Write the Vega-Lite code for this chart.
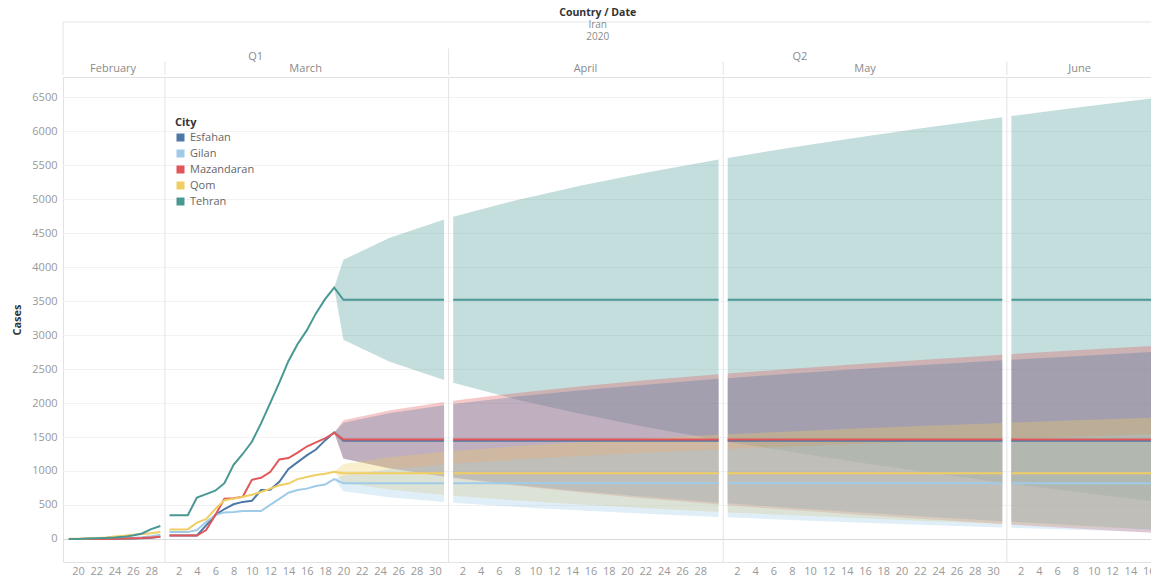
{
  "$schema": "https://vega.github.io/schema/vega-lite/v6.json",
  "padding": {"left": 11, "top": 0, "right": 0, "bottom": 0},
  "autosize": {"type": "pad"},
  "spacing": 0,
  "config": {
    "font": "Open Sans",
    "view": {"stroke": null},
    "legend": {"labelFont": "Open Sans", "titleFont": "Open Sans"}
  },
  "datasets": {
    "htext": [
      {"t": "Country / Date", "d": "2020-04-16T19:00:00Z", "r": "title"},
      {"t": "Iran", "d": "2020-04-16T19:00:00Z", "r": "country"},
      {"t": "2020", "d": "2020-04-16T19:00:00Z", "r": "year"},
      {"t": "Q1", "d": "2020-03-10T10:00:00Z", "r": "quarter"},
      {"t": "Q2", "d": "2020-05-08T21:00:00Z", "r": "quarter"},
      {"t": "February", "d": "2020-02-23T20:00:00Z", "r": "month"},
      {"t": "March", "d": "2020-03-15T21:00:00Z", "r": "month"},
      {"t": "April", "d": "2020-04-15T11:00:00Z", "r": "month"},
      {"t": "May", "d": "2020-05-16T00:00:00Z", "r": "month"},
      {"t": "June", "d": "2020-06-08T11:00:00Z", "r": "month"}
    ],
    "hrules": [
      {"d": "2020-02-18T08:40:00Z", "from": "top"},
      {"d": "2020-02-29T12:00:00Z", "from": "mid"},
      {"d": "2020-03-31T12:00:00Z", "from": "gap"},
      {"d": "2020-04-30T12:00:00Z", "from": "mid"},
      {"d": "2020-05-31T12:00:00Z", "from": "mid"}
    ],
    "seps": [
      {"d": "2020-02-29T12:00:00Z"},
      {"d": "2020-03-31T12:00:00Z"},
      {"d": "2020-04-30T12:00:00Z"},
      {"d": "2020-05-31T12:00:00Z"}
    ],
    "lines": [
      {"d": "2020-02-19", "m": "Feb", "Esfahan": 0, "Gilan": 0, "Mazandaran": 0, "Qom": 2, "Tehran": 0},
      {"d": "2020-02-20", "m": "Feb", "Esfahan": 0, "Gilan": 0, "Mazandaran": 0, "Qom": 3, "Tehran": 0},
      {"d": "2020-02-21", "m": "Feb", "Esfahan": 0, "Gilan": 0, "Mazandaran": 0, "Qom": 8, "Tehran": 5},
      {"d": "2020-02-22", "m": "Feb", "Esfahan": 0, "Gilan": 0, "Mazandaran": 0, "Qom": 15, "Tehran": 10},
      {"d": "2020-02-23", "m": "Feb", "Esfahan": 0, "Gilan": 2, "Mazandaran": 0, "Qom": 20, "Tehran": 15},
      {"d": "2020-02-24", "m": "Feb", "Esfahan": 0, "Gilan": 5, "Mazandaran": 2, "Qom": 35, "Tehran": 20},
      {"d": "2020-02-25", "m": "Feb", "Esfahan": 2, "Gilan": 10, "Mazandaran": 5, "Qom": 45, "Tehran": 30},
      {"d": "2020-02-26", "m": "Feb", "Esfahan": 5, "Gilan": 15, "Mazandaran": 8, "Qom": 60, "Tehran": 50},
      {"d": "2020-02-27", "m": "Feb", "Esfahan": 10, "Gilan": 25, "Mazandaran": 12, "Qom": 72, "Tehran": 80},
      {"d": "2020-02-28", "m": "Feb", "Esfahan": 18, "Gilan": 40, "Mazandaran": 20, "Qom": 85, "Tehran": 145},
      {"d": "2020-02-29", "m": "Feb", "Esfahan": 30, "Gilan": 60, "Mazandaran": 30, "Qom": 100, "Tehran": 190},
      {"d": "2020-03-01", "m": "Mar", "Esfahan": 50, "Gilan": 100, "Mazandaran": 50, "Qom": 140, "Tehran": 350},
      {"d": "2020-03-02", "m": "Mar", "Esfahan": 50, "Gilan": 100, "Mazandaran": 50, "Qom": 140, "Tehran": 350},
      {"d": "2020-03-03", "m": "Mar", "Esfahan": 50, "Gilan": 100, "Mazandaran": 50, "Qom": 140, "Tehran": 350},
      {"d": "2020-03-04", "m": "Mar", "Esfahan": 50, "Gilan": 130, "Mazandaran": 50, "Qom": 240, "Tehran": 610},
      {"d": "2020-03-05", "m": "Mar", "Esfahan": 200, "Gilan": 250, "Mazandaran": 130, "Qom": 290, "Tehran": 660},
      {"d": "2020-03-06", "m": "Mar", "Esfahan": 350, "Gilan": 350, "Mazandaran": 350, "Qom": 440, "Tehran": 710},
      {"d": "2020-03-07", "m": "Mar", "Esfahan": 440, "Gilan": 390, "Mazandaran": 590, "Qom": 570, "Tehran": 820},
      {"d": "2020-03-08", "m": "Mar", "Esfahan": 510, "Gilan": 395, "Mazandaran": 600, "Qom": 590, "Tehran": 1090},
      {"d": "2020-03-09", "m": "Mar", "Esfahan": 545, "Gilan": 410, "Mazandaran": 620, "Qom": 620, "Tehran": 1250},
      {"d": "2020-03-10", "m": "Mar", "Esfahan": 560, "Gilan": 410, "Mazandaran": 870, "Qom": 650, "Tehran": 1430},
      {"d": "2020-03-11", "m": "Mar", "Esfahan": 720, "Gilan": 410, "Mazandaran": 900, "Qom": 690, "Tehran": 1700},
      {"d": "2020-03-12", "m": "Mar", "Esfahan": 725, "Gilan": 500, "Mazandaran": 985, "Qom": 740, "Tehran": 2000},
      {"d": "2020-03-13", "m": "Mar", "Esfahan": 840, "Gilan": 590, "Mazandaran": 1170, "Qom": 790, "Tehran": 2300},
      {"d": "2020-03-14", "m": "Mar", "Esfahan": 1030, "Gilan": 680, "Mazandaran": 1190, "Qom": 815, "Tehran": 2620},
      {"d": "2020-03-15", "m": "Mar", "Esfahan": 1130, "Gilan": 720, "Mazandaran": 1270, "Qom": 880, "Tehran": 2870},
      {"d": "2020-03-16", "m": "Mar", "Esfahan": 1230, "Gilan": 740, "Mazandaran": 1360, "Qom": 910, "Tehran": 3070},
      {"d": "2020-03-17", "m": "Mar", "Esfahan": 1315, "Gilan": 780, "Mazandaran": 1420, "Qom": 940, "Tehran": 3320},
      {"d": "2020-03-18", "m": "Mar", "Esfahan": 1450, "Gilan": 800, "Mazandaran": 1480, "Qom": 960, "Tehran": 3530},
      {"d": "2020-03-19", "m": "Mar", "Esfahan": 1570, "Gilan": 880, "Mazandaran": 1560, "Qom": 990, "Tehran": 3700},
      {"d": "2020-03-20", "m": "Mar", "Esfahan": 1445, "Gilan": 820, "Mazandaran": 1465, "Qom": 965, "Tehran": 3520},
      {"d": "2020-03-31", "m": "Mar", "Esfahan": 1445, "Gilan": 820, "Mazandaran": 1465, "Qom": 965, "Tehran": 3520},
      {"d": "2020-04-01", "m": "Apr", "Esfahan": 1445, "Gilan": 820, "Mazandaran": 1465, "Qom": 965, "Tehran": 3520},
      {"d": "2020-04-30", "m": "Apr", "Esfahan": 1445, "Gilan": 820, "Mazandaran": 1465, "Qom": 965, "Tehran": 3520},
      {"d": "2020-05-01", "m": "May", "Esfahan": 1445, "Gilan": 820, "Mazandaran": 1465, "Qom": 965, "Tehran": 3520},
      {"d": "2020-05-31", "m": "May", "Esfahan": 1445, "Gilan": 820, "Mazandaran": 1465, "Qom": 965, "Tehran": 3520},
      {"d": "2020-06-01", "m": "Jun", "Esfahan": 1445, "Gilan": 820, "Mazandaran": 1465, "Qom": 965, "Tehran": 3520},
      {"d": "2020-06-17", "m": "Jun", "Esfahan": 1445, "Gilan": 820, "Mazandaran": 1465, "Qom": 965, "Tehran": 3520}
    ],
    "bands": [
      {"City": "Tehran", "d": "2020-03-19", "m": "Mar", "lo": 3700, "hi": 3700},
      {"City": "Tehran", "d": "2020-03-20", "m": "Mar", "lo": 2931, "hi": 4109},
      {"City": "Tehran", "d": "2020-03-25", "m": "Mar", "lo": 2612, "hi": 4428},
      {"City": "Tehran", "d": "2020-03-31", "m": "Mar", "lo": 2338, "hi": 4702},
      {"City": "Tehran", "d": "2020-04-01", "m": "Apr", "lo": 2298, "hi": 4742},
      {"City": "Tehran", "d": "2020-04-08", "m": "Apr", "lo": 2050, "hi": 4990},
      {"City": "Tehran", "d": "2020-04-15", "m": "Apr", "lo": 1838, "hi": 5202},
      {"City": "Tehran", "d": "2020-04-22", "m": "Apr", "lo": 1649, "hi": 5391},
      {"City": "Tehran", "d": "2020-04-30", "m": "Apr", "lo": 1455, "hi": 5585},
      {"City": "Tehran", "d": "2020-05-01", "m": "May", "lo": 1432, "hi": 5608},
      {"City": "Tehran", "d": "2020-05-08", "m": "May", "lo": 1278, "hi": 5762},
      {"City": "Tehran", "d": "2020-05-15", "m": "May", "lo": 1133, "hi": 5907},
      {"City": "Tehran", "d": "2020-05-22", "m": "May", "lo": 997, "hi": 6043},
      {"City": "Tehran", "d": "2020-05-31", "m": "May", "lo": 832, "hi": 6208},
      {"City": "Tehran", "d": "2020-06-01", "m": "Jun", "lo": 815, "hi": 6225},
      {"City": "Tehran", "d": "2020-06-08", "m": "Jun", "lo": 694, "hi": 6346},
      {"City": "Tehran", "d": "2020-06-17", "m": "Jun", "lo": 546, "hi": 6494},
      {"City": "Mazandaran", "d": "2020-03-19", "m": "Mar", "lo": 1560, "hi": 1560},
      {"City": "Mazandaran", "d": "2020-03-20", "m": "Mar", "lo": 1185, "hi": 1745},
      {"City": "Mazandaran", "d": "2020-03-25", "m": "Mar", "lo": 1040, "hi": 1890},
      {"City": "Mazandaran", "d": "2020-03-31", "m": "Mar", "lo": 914, "hi": 2016},
      {"City": "Mazandaran", "d": "2020-04-01", "m": "Apr", "lo": 895, "hi": 2035},
      {"City": "Mazandaran", "d": "2020-04-08", "m": "Apr", "lo": 781, "hi": 2149},
      {"City": "Mazandaran", "d": "2020-04-15", "m": "Apr", "lo": 683, "hi": 2247},
      {"City": "Mazandaran", "d": "2020-04-22", "m": "Apr", "lo": 596, "hi": 2334},
      {"City": "Mazandaran", "d": "2020-04-30", "m": "Apr", "lo": 506, "hi": 2424},
      {"City": "Mazandaran", "d": "2020-05-01", "m": "May", "lo": 496, "hi": 2434},
      {"City": "Mazandaran", "d": "2020-05-08", "m": "May", "lo": 424, "hi": 2506},
      {"City": "Mazandaran", "d": "2020-05-15", "m": "May", "lo": 358, "hi": 2572},
      {"City": "Mazandaran", "d": "2020-05-22", "m": "May", "lo": 295, "hi": 2635},
      {"City": "Mazandaran", "d": "2020-05-31", "m": "May", "lo": 218, "hi": 2712},
      {"City": "Mazandaran", "d": "2020-06-01", "m": "Jun", "lo": 210, "hi": 2720},
      {"City": "Mazandaran", "d": "2020-06-08", "m": "Jun", "lo": 154, "hi": 2776},
      {"City": "Mazandaran", "d": "2020-06-17", "m": "Jun", "lo": 85, "hi": 2845},
      {"City": "Esfahan", "d": "2020-03-19", "m": "Mar", "lo": 1570, "hi": 1570},
      {"City": "Esfahan", "d": "2020-03-20", "m": "Mar", "lo": 1179, "hi": 1711},
      {"City": "Esfahan", "d": "2020-03-25", "m": "Mar", "lo": 1041, "hi": 1849},
      {"City": "Esfahan", "d": "2020-03-31", "m": "Mar", "lo": 922, "hi": 1968},
      {"City": "Esfahan", "d": "2020-04-01", "m": "Apr", "lo": 904, "hi": 1986},
      {"City": "Esfahan", "d": "2020-04-08", "m": "Apr", "lo": 795, "hi": 2095},
      {"City": "Esfahan", "d": "2020-04-15", "m": "Apr", "lo": 702, "hi": 2188},
      {"City": "Esfahan", "d": "2020-04-22", "m": "Apr", "lo": 619, "hi": 2271},
      {"City": "Esfahan", "d": "2020-04-30", "m": "Apr", "lo": 534, "hi": 2356},
      {"City": "Esfahan", "d": "2020-05-01", "m": "May", "lo": 524, "hi": 2366},
      {"City": "Esfahan", "d": "2020-05-08", "m": "May", "lo": 456, "hi": 2434},
      {"City": "Esfahan", "d": "2020-05-15", "m": "May", "lo": 393, "hi": 2497},
      {"City": "Esfahan", "d": "2020-05-22", "m": "May", "lo": 333, "hi": 2557},
      {"City": "Esfahan", "d": "2020-05-31", "m": "May", "lo": 260, "hi": 2630},
      {"City": "Esfahan", "d": "2020-06-01", "m": "Jun", "lo": 253, "hi": 2637},
      {"City": "Esfahan", "d": "2020-06-08", "m": "Jun", "lo": 200, "hi": 2690},
      {"City": "Esfahan", "d": "2020-06-17", "m": "Jun", "lo": 134, "hi": 2756},
      {"City": "Qom", "d": "2020-03-19", "m": "Mar", "lo": 990, "hi": 990},
      {"City": "Qom", "d": "2020-03-20", "m": "Mar", "lo": 826, "hi": 1104},
      {"City": "Qom", "d": "2020-03-25", "m": "Mar", "lo": 728, "hi": 1202},
      {"City": "Qom", "d": "2020-03-31", "m": "Mar", "lo": 648, "hi": 1282},
      {"City": "Qom", "d": "2020-04-01", "m": "Apr", "lo": 636, "hi": 1294},
      {"City": "Qom", "d": "2020-04-08", "m": "Apr", "lo": 565, "hi": 1365},
      {"City": "Qom", "d": "2020-04-15", "m": "Apr", "lo": 505, "hi": 1425},
      {"City": "Qom", "d": "2020-04-22", "m": "Apr", "lo": 452, "hi": 1478},
      {"City": "Qom", "d": "2020-04-30", "m": "Apr", "lo": 397, "hi": 1533},
      {"City": "Qom", "d": "2020-05-01", "m": "May", "lo": 390, "hi": 1540},
      {"City": "Qom", "d": "2020-05-08", "m": "May", "lo": 347, "hi": 1583},
      {"City": "Qom", "d": "2020-05-15", "m": "May", "lo": 306, "hi": 1624},
      {"City": "Qom", "d": "2020-05-22", "m": "May", "lo": 268, "hi": 1662},
      {"City": "Qom", "d": "2020-05-31", "m": "May", "lo": 222, "hi": 1708},
      {"City": "Qom", "d": "2020-06-01", "m": "Jun", "lo": 217, "hi": 1713},
      {"City": "Qom", "d": "2020-06-08", "m": "Jun", "lo": 183, "hi": 1747},
      {"City": "Qom", "d": "2020-06-17", "m": "Jun", "lo": 142, "hi": 1788},
      {"City": "Gilan", "d": "2020-03-19", "m": "Mar", "lo": 880, "hi": 880},
      {"City": "Gilan", "d": "2020-03-20", "m": "Mar", "lo": 703, "hi": 937},
      {"City": "Gilan", "d": "2020-03-25", "m": "Mar", "lo": 615, "hi": 1025},
      {"City": "Gilan", "d": "2020-03-31", "m": "Mar", "lo": 544, "hi": 1096},
      {"City": "Gilan", "d": "2020-04-01", "m": "Apr", "lo": 533, "hi": 1107},
      {"City": "Gilan", "d": "2020-04-08", "m": "Apr", "lo": 471, "hi": 1169},
      {"City": "Gilan", "d": "2020-04-15", "m": "Apr", "lo": 418, "hi": 1222},
      {"City": "Gilan", "d": "2020-04-22", "m": "Apr", "lo": 371, "hi": 1269},
      {"City": "Gilan", "d": "2020-04-30", "m": "Apr", "lo": 323, "hi": 1317},
      {"City": "Gilan", "d": "2020-05-01", "m": "May", "lo": 317, "hi": 1323},
      {"City": "Gilan", "d": "2020-05-08", "m": "May", "lo": 279, "hi": 1361},
      {"City": "Gilan", "d": "2020-05-15", "m": "May", "lo": 243, "hi": 1397},
      {"City": "Gilan", "d": "2020-05-22", "m": "May", "lo": 209, "hi": 1431},
      {"City": "Gilan", "d": "2020-05-31", "m": "May", "lo": 169, "hi": 1471},
      {"City": "Gilan", "d": "2020-06-01", "m": "Jun", "lo": 164, "hi": 1476},
      {"City": "Gilan", "d": "2020-06-08", "m": "Jun", "lo": 135, "hi": 1505},
      {"City": "Gilan", "d": "2020-06-17", "m": "Jun", "lo": 98, "hi": 1542}
    ]
  },
  "vconcat": [
    {
      "width": 1089,
      "height": 75,
      "resolve": {"scale": {"y": "independent"}, "axis": {"y": "independent"}},
      "layer": [
        {
          "data": {"values": [{"r": "top"}]},
          "mark": {"type": "rule", "color": "#e6e6e6"},
          "encoding": {
            "y": {"field": "r", "type": "nominal", "axis": null,
                  "scale": {"type": "point", "domain": ["top", "x1", "gap", "mid", "bottom"], "range": [22, 75], "padding": 0}}
          }
        },
        {
          "data": {"name": "hrules"},
          "mark": {"type": "rule", "color": "#e3e3e3"},
          "encoding": {
            "x": {"field": "d", "type": "temporal", "axis": null,
                  "scale": {"type": "utc", "nice": false, "domain": [{"year": 2020, "month": 2, "date": 18, "hours": 8, "minutes": 40, "utc": true}, {"year": 2020, "month": 6, "date": 16, "hours": 8, "minutes": 40, "utc": true}]}},
            "y": {"field": "from", "type": "nominal", "axis": null,
                  "scale": {"type": "point", "domain": ["top", "x1", "gap", "mid", "bottom"], "range": [22, 75], "padding": 0}},
            "y2": {"datum": "bottom"}
          }
        },
        {
          "data": {"name": "htext"},
          "transform": [{"filter": "datum.r === 'title'"}],
          "mark": {"type": "text", "fontWeight": "bold", "color": "#333333", "fontSize": 10.5},
          "encoding": {
            "x": {"field": "d", "type": "temporal", "axis": null},
            "y": {"field": "r", "type": "nominal", "axis": null,
                  "scale": {"type": "point", "domain": ["title", "country", "year"], "range": [13, 37], "padding": 0}},
            "text": {"field": "t"}
          }
        },
        {
          "data": {"name": "htext"},
          "transform": [{"filter": "datum.r === 'country' || datum.r === 'year'"}],
          "mark": {"type": "text", "color": "#8a8a8a", "fontSize": 10},
          "encoding": {
            "x": {"field": "d", "type": "temporal", "axis": null},
            "y": {"field": "r", "type": "nominal", "axis": null,
                  "scale": {"type": "point", "domain": ["title", "country", "year"], "range": [13, 37], "padding": 0}},
            "text": {"field": "t"}
          }
        },
        {
          "data": {"name": "htext"},
          "transform": [{"filter": "datum.r === 'quarter' || datum.r === 'month'"}],
          "mark": {"type": "text", "color": "#8a8a8a", "fontSize": 11},
          "encoding": {
            "x": {"field": "d", "type": "temporal", "axis": null},
            "y": {"field": "r", "type": "nominal", "axis": null,
                  "scale": {"type": "point", "domain": ["quarter", "month"], "range": [57, 69], "padding": 0}},
            "text": {"field": "t"}
          }
        }
      ]
    },
    {
      "width": 1089,
      "height": 485,
      "view": {"stroke": "#e2e2e2"},
      "resolve": {"legend": {"color": "independent"}},
      "layer": [
        {
          "data": {"name": "bands"},
          "mark": {"type": "area", "opacity": 0.32, "clip": true},
          "encoding": {
            "x": {"field": "d", "type": "temporal",
                  "scale": {"type": "utc", "nice": false, "domain": [{"year": 2020, "month": 2, "date": 18, "hours": 8, "minutes": 40, "utc": true}, {"year": 2020, "month": 6, "date": 16, "hours": 8, "minutes": 40, "utc": true}]},
                  "axis": {"title": null, "tickCount": {"interval": "day", "step": 1},
                           "labelExpr": "(utcdate(datum.value) % 2 === 0 && !(utcmonth(datum.value) === 3 && utcdate(datum.value) === 30)) ? utcFormat(datum.value, '%-d') : ''",
                           "ticks": false, "domain": false, "grid": false, "labelOverlap": false, "labelFlush": false,
                           "labelColor": "#999999", "labelFontSize": 11, "labelPadding": 3}},
            "y": {"field": "lo", "type": "quantitative",
                  "scale": {"domain": [-340, 6800], "nice": false, "zero": false},
                  "axis": {"title": "Cases", "values": [0, 500, 1000, 1500, 2000, 2500, 3000, 3500, 4000, 4500, 5000, 5500, 6000, 6500],
                           "format": "d", "grid": true, "labelOverlap": false,
                           "gridColor": {"condition": {"test": "datum.value === 0", "value": "#d9d9d9"}, "value": "#f2f2f2"},
                           "domain": false, "ticks": false, "labelColor": "#999999", "labelFontSize": 11, "labelPadding": 6,
                           "titleFontSize": 11, "titleFontWeight": "bold", "titleColor": "#333333", "titlePadding": 9}},
            "y2": {"field": "hi"},
            "color": {"field": "City", "type": "nominal",
                      "scale": {"domain": ["Esfahan", "Gilan", "Mazandaran", "Qom", "Tehran"], "range": ["#4e79a7", "#a0cbe8", "#e15759", "#f1ce63", "#499894"]},
                      "legend": {"orient": "none", "legendX": 112, "legendY": 40, "title": "City", "symbolType": "square", "symbolSize": 64, "symbolOpacity": 1, "symbolStrokeWidth": 0,
                                 "titleFontSize": 11, "titleFontWeight": "bold", "titleColor": "#333333", "labelFontSize": 11, "labelColor": "#666666", "rowPadding": 4, "titlePadding": 4}},
            "detail": {"field": "m", "type": "nominal"}
          }
        },
        {
          "data": {"name": "seps"},
          "mark": {"type": "rule", "color": "#e3e3e3"},
          "encoding": {"x": {"field": "d", "type": "temporal",
                  "axis": {"title": null, "tickCount": {"interval": "day", "step": 1},
                           "labelExpr": "(utcdate(datum.value) % 2 === 0 && !(utcmonth(datum.value) === 3 && utcdate(datum.value) === 30)) ? utcFormat(datum.value, '%-d') : ''",
                           "ticks": false, "domain": false, "grid": false, "labelOverlap": false, "labelFlush": false,
                           "labelColor": "#999999", "labelFontSize": 11, "labelPadding": 3}}}
        },
        {
          "data": {"name": "lines"},
          "transform": [{"fold": ["Esfahan", "Gilan", "Mazandaran", "Qom", "Tehran"], "as": ["City", "Cases"]}],
          "mark": {"type": "line", "strokeWidth": 2, "clip": true},
          "encoding": {
            "x": {"field": "d", "type": "temporal",
                  "axis": {"title": null, "tickCount": {"interval": "day", "step": 1},
                           "labelExpr": "(utcdate(datum.value) % 2 === 0 && !(utcmonth(datum.value) === 3 && utcdate(datum.value) === 30)) ? utcFormat(datum.value, '%-d') : ''",
                           "ticks": false, "domain": false, "grid": false, "labelOverlap": false, "labelFlush": false,
                           "labelColor": "#999999", "labelFontSize": 11, "labelPadding": 3}},
            "y": {"field": "Cases", "type": "quantitative",
                  "axis": {"title": "Cases", "values": [0, 500, 1000, 1500, 2000, 2500, 3000, 3500, 4000, 4500, 5000, 5500, 6000, 6500],
                           "format": "d", "grid": true, "labelOverlap": false,
                           "gridColor": {"condition": {"test": "datum.value === 0", "value": "#d9d9d9"}, "value": "#f2f2f2"},
                           "domain": false, "ticks": false, "labelColor": "#999999", "labelFontSize": 11, "labelPadding": 6,
                           "titleFontSize": 11, "titleFontWeight": "bold", "titleColor": "#333333", "titlePadding": 9}},
            "color": {"field": "City", "type": "nominal", "legend": null},
            "detail": {"field": "m", "type": "nominal"}
          }
        }
      ]
    }
  ]
}
